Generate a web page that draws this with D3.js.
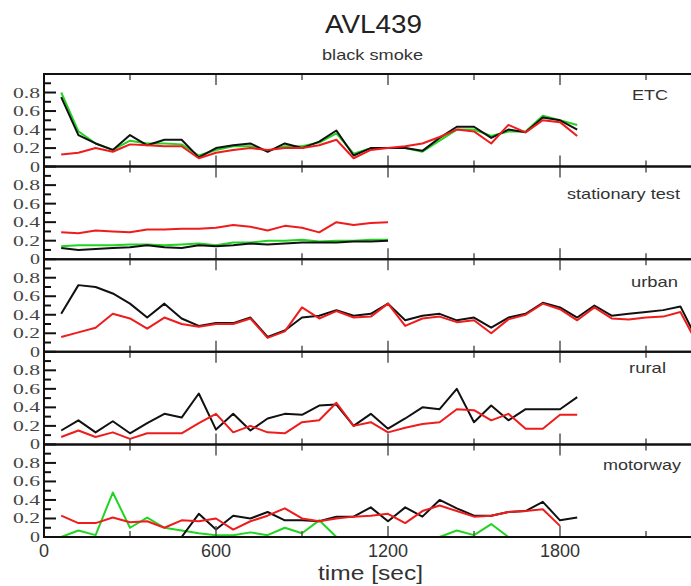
<!DOCTYPE html>
<html><head><meta charset="utf-8">
<script src="https://cdn.jsdelivr.net/npm/d3@7"></script>
<style>body{margin:0;background:#fff}svg{display:block}</style>
</head><body>
<svg id="c" width="691" height="586"></svg>
<script>
// ---------- data ----------
const times = [60,120,180,240,300,360,420,480,540,600,660,720,780,840,900,960,1020,1080,1140,1200,
  1260,1320,1380,1440,1500,1560,1620,1680,1740,1800,1860,1920,1980,2040,2100,2160,2220,2280];

const panelNames = ["ETC", "stationary test", "urban", "rural", "motorway"];

// ETC (t = 60 .. 1860)
const etcGreen = [0.80,0.38,0.25,0.18,0.28,0.25,0.25,0.24,0.12,0.18,0.22,0.22,0.17,0.22,0.22,0.26,0.36,0.14,0.20,0.20,0.20,0.16,0.28,0.40,0.40,0.33,0.38,0.38,0.55,0.50,0.45];
const etcBlack = [0.75,0.34,0.25,0.18,0.34,0.23,0.29,0.29,0.10,0.20,0.23,0.25,0.16,0.25,0.20,0.27,0.39,0.12,0.20,0.20,0.20,0.17,0.31,0.43,0.43,0.31,0.40,0.37,0.53,0.50,0.40];
const etcRed   = [0.13,0.15,0.20,0.16,0.24,0.23,0.22,0.22,0.09,0.15,0.18,0.20,0.18,0.20,0.20,0.23,0.29,0.09,0.18,0.20,0.22,0.25,0.32,0.40,0.38,0.25,0.45,0.37,0.50,0.48,0.33];

// stationary test (t = 60 .. 1200)
const statGreen = [0.14,0.15,0.15,0.15,0.16,0.16,0.15,0.16,0.17,0.15,0.18,0.18,0.20,0.20,0.21,0.19,0.20,0.20,0.21,0.21];
const statBlack = [0.12,0.10,0.11,0.12,0.13,0.15,0.13,0.12,0.15,0.14,0.15,0.17,0.16,0.17,0.18,0.18,0.18,0.19,0.19,0.20];
const statRed   = [0.29,0.28,0.31,0.30,0.29,0.32,0.32,0.33,0.33,0.34,0.37,0.35,0.31,0.36,0.34,0.29,0.40,0.37,0.39,0.40];

// urban (t = 60 .. 2280)
const urbanBlack = [0.41,0.72,0.70,0.63,0.52,0.37,0.52,0.36,0.28,0.31,0.31,0.37,0.16,0.23,0.37,0.39,0.45,0.39,0.41,0.52,
  0.34,0.39,0.41,0.34,0.37,0.26,0.37,0.41,0.53,0.48,0.37,0.50,0.39,0.41,0.43,0.45,0.49,0.12];
const urbanRed = [0.16,0.21,0.26,0.41,0.36,0.25,0.37,0.30,0.27,0.30,0.30,0.36,0.15,0.22,0.48,0.36,0.44,0.37,0.38,0.52,
  0.28,0.36,0.38,0.32,0.34,0.20,0.35,0.40,0.52,0.46,0.34,0.48,0.36,0.35,0.37,0.38,0.43,0.08];

// rural (t = 60 .. 1860)
const ruralBlack = [0.15,0.26,0.13,0.25,0.12,0.23,0.33,0.29,0.55,0.16,0.33,0.15,0.28,0.33,0.32,0.42,0.43,0.20,0.33,0.17,
  0.28,0.40,0.38,0.60,0.24,0.42,0.26,0.38,0.38,0.38,0.51];
const ruralRed = [0.08,0.15,0.08,0.13,0.06,0.12,0.12,0.12,0.23,0.33,0.13,0.20,0.13,0.12,0.24,0.26,0.45,0.20,0.24,0.13,
  0.18,0.22,0.24,0.38,0.37,0.26,0.33,0.17,0.17,0.32,0.32];

// motorway
const motorGreen = [0.00,0.07,0.02,0.48,0.10,0.21,0.10,0.07,0.04,0.02,0.02,0.05,0.02,0.10,0.04,0.18,0.00,0.00,0.00,0.00,
  0.00,0.00,0.00,0.07,0.02,0.14,0.00];                       // t = 60 .. 1620
const motorBlack = [0.00,0.25,0.08,0.23,0.20,0.27,0.18,0.18,0.17,0.22,0.22,0.32,0.17,0.32,0.22,0.40,0.31,0.23,0.23,0.27,
  0.28,0.38,0.18,0.21];                                      // t = 480 .. 1860
const motorRed = [0.23,0.15,0.15,0.21,0.16,0.17,0.10,0.18,0.17,0.20,0.08,0.17,0.23,0.31,0.20,0.17,0.20,0.22,0.23,0.25,
  0.15,0.28,0.34,0.28,0.22,0.23,0.27,0.28,0.30,0.12];        // t = 60 .. 1800

const seriesColors = { green: "#22d422", black: "#111111", red: "#ee1c1c" };

// series per panel: [values, colour key, first time]
const panels = [
  [[etcGreen,"green",60],[etcBlack,"black",60],[etcRed,"red",60]],
  [[statGreen,"green",60],[statBlack,"black",60],[statRed,"red",60]],
  [[urbanBlack,"black",60],[urbanRed,"red",60]],
  [[ruralBlack,"black",60],[ruralRed,"red",60]],
  [[motorGreen,"green",60],[motorBlack,"black",480],[motorRed,"red",60]]
];

const yTickValues = [0, 0.2, 0.4, 0.6, 0.8];
const yMinorValues = [0.1, 0.3, 0.5, 0.7, 0.9];
const xTickLabels = [0, 600, 1200, 1800];
const xTickAll = [300, 600, 900, 1200, 1500, 1800, 2100];

// ---------- layout ----------
const svg = d3.select("#c");
const plotLeft = 44, plotTop = 74, panelH = 92.6;
const pxPerSec = 0.28667;
const xMax = 2400;
const x = d3.scaleLinear().domain([0, xMax]).range([plotLeft, plotLeft + xMax * pxPerSec]);

const clip = svg.append("defs").append("clipPath").attr("id", "clp");
clip.append("rect").attr("x", plotLeft).attr("y", plotTop).attr("width", 700).attr("height", panelH * 5);

function stretchText(g, str, xPos, yPos, len, opts) {
  const t = g.append("text").attr("x", xPos).attr("y", yPos).text(str)
    .attr("font-family", opts.family).attr("font-size", opts.size)
    .attr("fill", opts.fill || "#333")
    .attr("text-anchor", opts.anchor || "start");
  if (len) t.attr("textLength", len).attr("lengthAdjust", "spacingAndGlyphs");
  return t;
}

const panelLabelPos = [
  {x: 632, y: 100, w: 36},
  {x: 567, y: 199, w: 113},
  {x: 631, y: 287, w: 47},
  {x: 629, y: 373, w: 37},
  {x: 603, y: 470, w: 78}
];

panels.forEach((series, p) => {
  const y0 = plotTop + p * panelH;
  const y = d3.scaleLinear().domain([0, 1]).range([y0 + panelH, y0]);
  const g = svg.append("g");

  // lines
  const line = d3.line().x(d => x(d[0])).y(d => y(d[1]));
  const lg = g.append("g").attr("clip-path", "url(#clp)");
  series.forEach(([vals, col, start]) => {
    const i0 = times.indexOf(start);
    const pts = vals.map((v, i) => [times[i0 + i], v]);
    lg.append("path").attr("d", line(pts)).attr("fill", "none")
      .attr("stroke", seriesColors[col]).attr("stroke-width", 2)
      .attr("stroke-linejoin", "round");
  });

  // y axis ticks (inward)
  g.selectAll(".ymaj").data(yTickValues).join("line")
    .attr("x1", plotLeft).attr("x2", plotLeft + 12).attr("y1", d => y(d)).attr("y2", d => y(d))
    .attr("stroke", "#111").attr("stroke-width", 2);
  g.selectAll(".ymin").data(yMinorValues).join("line")
    .attr("x1", plotLeft).attr("x2", plotLeft + 7).attr("y1", d => y(d)).attr("y2", d => y(d))
    .attr("stroke", "#111").attr("stroke-width", 2);
  yTickValues.forEach(v => {
    const s = v === 0 ? "0" : d3.format(".1f")(v);
    stretchText(g, s, 40, y(v) + 5, v === 0 ? 10 : 27,
      {family: "'Liberation Serif', 'DejaVu Serif', serif", size: 15, anchor: "end", fill: "#444"});
  });

  // x ticks on top and bottom (inward)
  xTickAll.forEach(t => {
    const len = (t % 600 === 0) ? 11 : 6;
    g.append("line").attr("x1", x(t)).attr("x2", x(t)).attr("y1", y0).attr("y2", y0 + len)
      .attr("stroke", "#555").attr("stroke-width", 1.5);
    g.append("line").attr("x1", x(t)).attr("x2", x(t)).attr("y1", y0 + panelH).attr("y2", y0 + panelH - len)
      .attr("stroke", "#555").attr("stroke-width", 1.5);
  });

  // frame
  g.append("line").attr("x1", plotLeft).attr("x2", 691).attr("y1", y0).attr("y2", y0)
    .attr("stroke", "#111").attr("stroke-width", 2);
  g.append("line").attr("x1", plotLeft).attr("x2", 691).attr("y1", y0 + panelH).attr("y2", y0 + panelH)
    .attr("stroke", "#111").attr("stroke-width", 2);

  const lp = panelLabelPos[p];
  stretchText(g, panelNames[p], lp.x, lp.y, lp.w,
    {family: "'Liberation Sans', Arial, sans-serif", size: 15, fill: "#333"});
});

// left axis line
svg.append("line").attr("x1", plotLeft).attr("x2", plotLeft).attr("y1", plotTop - 1).attr("y2", plotTop + 5 * panelH + 1)
  .attr("stroke", "#111").attr("stroke-width", 2);

// x tick labels
const plotBottom = plotTop + 5 * panelH;
svg.selectAll(".xl").data(xTickLabels).join("text")
  .attr("x", d => x(d)).attr("y", plotBottom + 20).attr("text-anchor", "middle")
  .attr("font-family", "'Liberation Sans', Arial, sans-serif").attr("font-size", 18)
  .attr("fill", "#333").text(d => d);

// titles
stretchText(svg, "AVL439", 325, 33, 97, {family: "'Liberation Sans', Arial, sans-serif", size: 25, fill: "#222"});
stretchText(svg, "black smoke", 322, 60, 101, {family: "'Liberation Sans', Arial, sans-serif", size: 15, fill: "#333"});
stretchText(svg, "time [sec]", 318, 580, 105, {family: "'Liberation Sans', Arial, sans-serif", size: 20, fill: "#333"});
</script>
</body></html>
